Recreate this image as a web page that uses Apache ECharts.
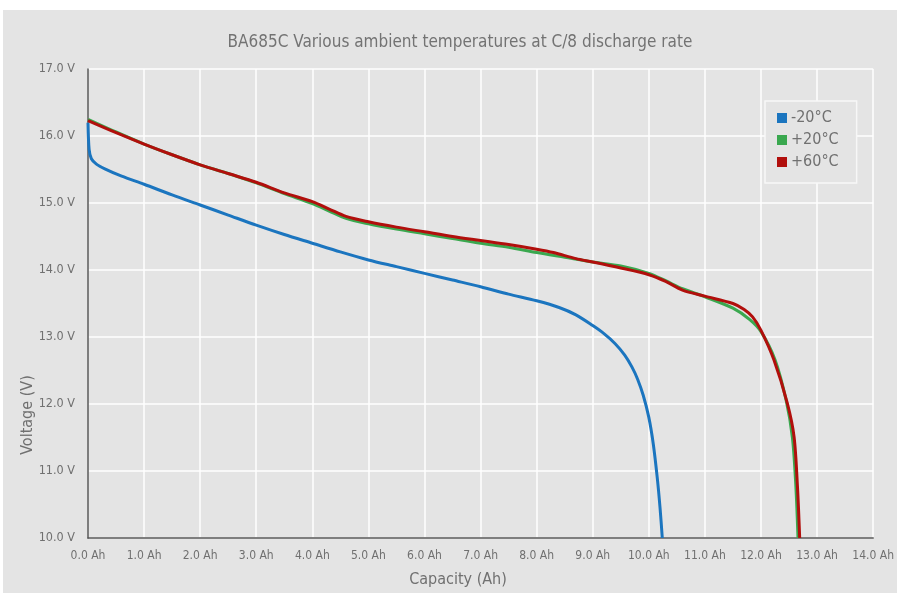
<!DOCTYPE html>
<html>
<head>
<meta charset="utf-8">
<script src="https://cdn.jsdelivr.net/npm/echarts@6/dist/echarts.min.js"></script>
<style>
html,body{margin:0;padding:0;background:#ffffff;}
#chart{width:897px;height:593px;}
</style>
</head>
<body>
<div id="chart"></div>
<script>
const titleText = 'BA685C Various ambient temperatures at C/8 discharge rate';
const seriesNames = ['-20°C', '+20°C', '+60°C'];

const capM20 = [0, 0.02, 0.06, 0.15, 0.3, 0.6, 1.0, 1.5, 2.0, 2.5, 3.0, 3.5, 4.0, 4.5, 5.0, 5.5, 6.0, 6.5, 7.0, 7.5, 8.0, 8.4, 8.7, 9.0, 9.2, 9.4, 9.57, 9.7, 9.8, 9.9, 10.0, 10.08, 10.15, 10.2, 10.24];
const voltM20 = [16.2, 15.8, 15.66, 15.58, 15.51, 15.40, 15.28, 15.12, 14.97, 14.82, 14.67, 14.53, 14.40, 14.27, 14.15, 14.05, 13.95, 13.85, 13.75, 13.64, 13.54, 13.44, 13.33, 13.17, 13.05, 12.90, 12.73, 12.55, 12.37, 12.13, 11.80, 11.40, 10.90, 10.45, 10.0];

const capP20 = [0, 0.5, 1.0, 1.5, 2.0, 2.5, 3.0, 3.5, 4.0, 4.3, 4.6, 5.0, 5.5, 6.0, 6.5, 7.0, 7.5, 8.0, 8.5, 9.0, 9.5, 10.0, 10.3, 10.6, 11.0, 11.5, 11.8, 12.0, 12.25, 12.45, 12.56, 12.62, 12.66];
const voltP20 = [16.25, 16.06, 15.88, 15.72, 15.57, 15.44, 15.30, 15.14, 14.99, 14.88, 14.77, 14.69, 14.61, 14.54, 14.47, 14.40, 14.34, 14.26, 14.19, 14.12, 14.06, 13.95, 13.84, 13.72, 13.60, 13.43, 13.26, 13.08, 12.66, 12.05, 11.5, 10.8, 10.0];

const capP60 = [0, 0.5, 1.0, 1.5, 2.0, 2.5, 3.0, 3.5, 4.0, 4.3, 4.6, 5.0, 5.5, 6.0, 6.5, 7.0, 7.5, 8.0, 8.3, 8.7, 9.0, 9.5, 10.0, 10.3, 10.6, 11.0, 11.5, 11.7, 11.85, 12.0, 12.23, 12.47, 12.59, 12.65, 12.69];
const voltP60 = [16.23, 16.05, 15.88, 15.72, 15.57, 15.44, 15.31, 15.15, 15.02, 14.91, 14.80, 14.72, 14.64, 14.57, 14.50, 14.44, 14.38, 14.31, 14.26, 14.17, 14.12, 14.03, 13.93, 13.83, 13.70, 13.61, 13.50, 13.41, 13.30, 13.10, 12.66, 12.01, 11.51, 10.77, 10.0];

const xTicks = [0, 14, 1];   // min, max, interval (Ah)
const yTicks = [10, 17, 1];  // min, max, interval (V)

const colors = ['#1b75bf', '#3aa84f', '#b10f0c'];
const FONT = "'Liberation Sans Narrow','DejaVu Sans Condensed','Roboto',sans-serif";

function pairs(xs, ys){ return xs.map((x,i)=>[x, ys[i]]); }

const chart = echarts.init(document.getElementById('chart'));
const lineSeries = [[capM20, voltM20], [capP20, voltP20], [capP60, voltP60]].map((d, i) => ({
  name: seriesNames[i],
  type: 'line',
  data: pairs(d[0], d[1]),
  smooth: 0.3,
  showSymbol: false,
  lineStyle: { width: 3, color: colors[i] },
  itemStyle: { color: colors[i] },
  z: 2 + i
}));

chart.setOption({
  animation: false,
  backgroundColor: 'transparent',
  textStyle: { fontFamily: FONT },
  title: {
    text: titleText,
    left: 455, top: 29, textAlign: 'center',
    textStyle: { fontFamily: FONT, fontSize: 17, fontWeight: 'normal', color: '#737373' }
  },
  graphic: [
    { type: 'rect', z: -10, silent: true, shape: { x: 3, y: 10, width: 894, height: 583 }, style: { fill: '#e4e4e4' } },
    { type: 'text', silent: true, x: 28, y: 415, rotation: Math.PI / 2,
      style: { text: 'Voltage (V)', fill: '#707070', font: '16px ' + FONT, align: 'center', verticalAlign: 'middle' } },
    { type: 'text', silent: true, x: 458, y: 580,
      style: { text: 'Capacity (Ah)', fill: '#707070', font: '16px ' + FONT, align: 'center', verticalAlign: 'middle' } }
  ],
  legend: {
    orient: 'vertical',
    left: 765, top: 101,
    padding: [9, 18, 13, 12],
    itemGap: 6,
    itemWidth: 10, itemHeight: 10,
    icon: 'rect',
    backgroundColor: '#e4e4e4',
    borderColor: '#f7f7f7', borderWidth: 1.5,
    textStyle: { fontFamily: FONT, fontSize: 16, color: '#707070', padding: [0, 0, 0, -1] },
    data: seriesNames
  },
  grid: { left: 88, right: 21, top: 69, bottom: 55, containLabel: false },
  xAxis: {
    type: 'value',
    min: xTicks[0], max: xTicks[1], interval: xTicks[2],
    axisLine: { show: true, lineStyle: { color: '#555', width: 1.5 } },
    axisTick: { show: false },
    splitLine: { show: true, lineStyle: { color: '#ffffff', width: 1.5 } },
    axisLabel: { margin: 12, fontSize: 12, color: '#707070', fontFamily: FONT, showMaxLabel: true,
      formatter: v => v.toFixed(1) + ' Ah' }
  },
  yAxis: {
    type: 'value',
    min: yTicks[0], max: yTicks[1], interval: yTicks[2],
    axisLine: { show: true, lineStyle: { color: '#555', width: 1.5 } },
    axisTick: { show: false },
    splitLine: { show: true, lineStyle: { color: '#ffffff', width: 1.5 } },
    axisLabel: { margin: 13, fontSize: 12.5, color: '#707070', fontFamily: FONT,
      formatter: v => v.toFixed(1) + ' V' }
  },
  series: lineSeries
});
</script>
</body>
</html>
